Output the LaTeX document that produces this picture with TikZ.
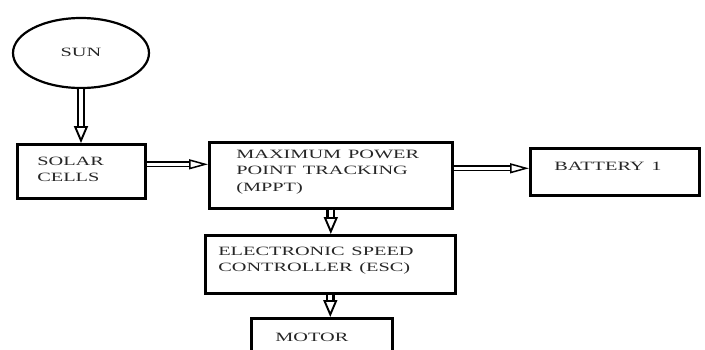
\documentclass[tikz,border=0pt]{standalone}
\usepackage{fontspec}
\setmainfont{Liberation Serif}
\usetikzlibrary{arrows.meta,shapes.geometric}
\newcommand{\wtxt}[1]{\scalebox{1.6}[1]{\begin{tabular}{@{}l@{}}#1\end{tabular}}}
\newcommand{\upby}[2]{\raisebox{#1}[\height][\depth]{#2}}
\begin{document}
\begin{tikzpicture}[x=1pt,y=-1pt,
  every node/.style={text=black!85},
  box/.style={draw=black, line width=2.6pt, rectangle, inner ysep=0pt, anchor=north west,
    font=\fontsize{12.7}{16.5}\selectfont},
  sunnode/.style={draw=black, line width=2.2pt, ellipse, minimum width=136pt, minimum height=70pt,
    inner sep=0pt, font=\fontsize{12.7}{16.5}\selectfont},
  varrow/.style={draw=black, double=white, line width=2.4pt, double distance=4pt,
    -{Triangle[open, length=17pt, width=14pt, line width=1.9pt]}},
  harrow/.style={draw=black, double=white, line width=1.8pt, double distance=2.4pt,
    -{Triangle[open, length=19pt, width=10pt, line width=1.5pt]}}
]
\useasboundingbox (0,0) rectangle (705,349);

\node[sunnode] (sun) at (81,53) {\wtxt{SUN}};

\node[box, minimum width=128pt, minimum height=54pt, inner xsep=20pt, text width=88pt]
  (solar) at (16,143) {\upby{1pt}{\wtxt{SOLAR\\CELLS}}};

\node[box, minimum width=243pt, minimum height=66pt, inner xsep=27pt, text width=189pt]
  (mppt) at (208,141) {\upby{4pt}{\wtxt{MAXIMUM POWER\\POINT TRACKING\\(MPPT)}}};

\node[box, minimum width=169pt, minimum height=47pt, inner xsep=24pt, text width=121pt]
  (bat) at (529,147) {\upby{5pt}{\wtxt{BATTERY 1}}};

\node[box, minimum width=250pt, minimum height=58pt, inner xsep=13pt, text width=224pt]
  (esc) at (204,234) {\upby{4pt}{\wtxt{ELECTRONIC SPEED\\CONTROLLER (ESC)}}};

\node[box, minimum width=141pt, minimum height=40pt, inner xsep=24pt, text width=93pt]
  (motor) at (250,317) {\wtxt{MOTOR}};

\coordinate (s1) at ([yshift=7pt]solar.east);
\coordinate (m1) at ([yshift=7pt]mppt.east);

\draw[varrow] (sun.south) -- (sun.south |- solar.north);
\draw[harrow] (s1) -- (s1 -| mppt.west);
\draw[harrow] (m1) -- (m1 -| bat.west);
\draw[varrow] (mppt.south) -- (mppt.south |- esc.north);
\draw[varrow] (esc.south) -- (esc.south |- motor.north);
\end{tikzpicture}
\end{document}
